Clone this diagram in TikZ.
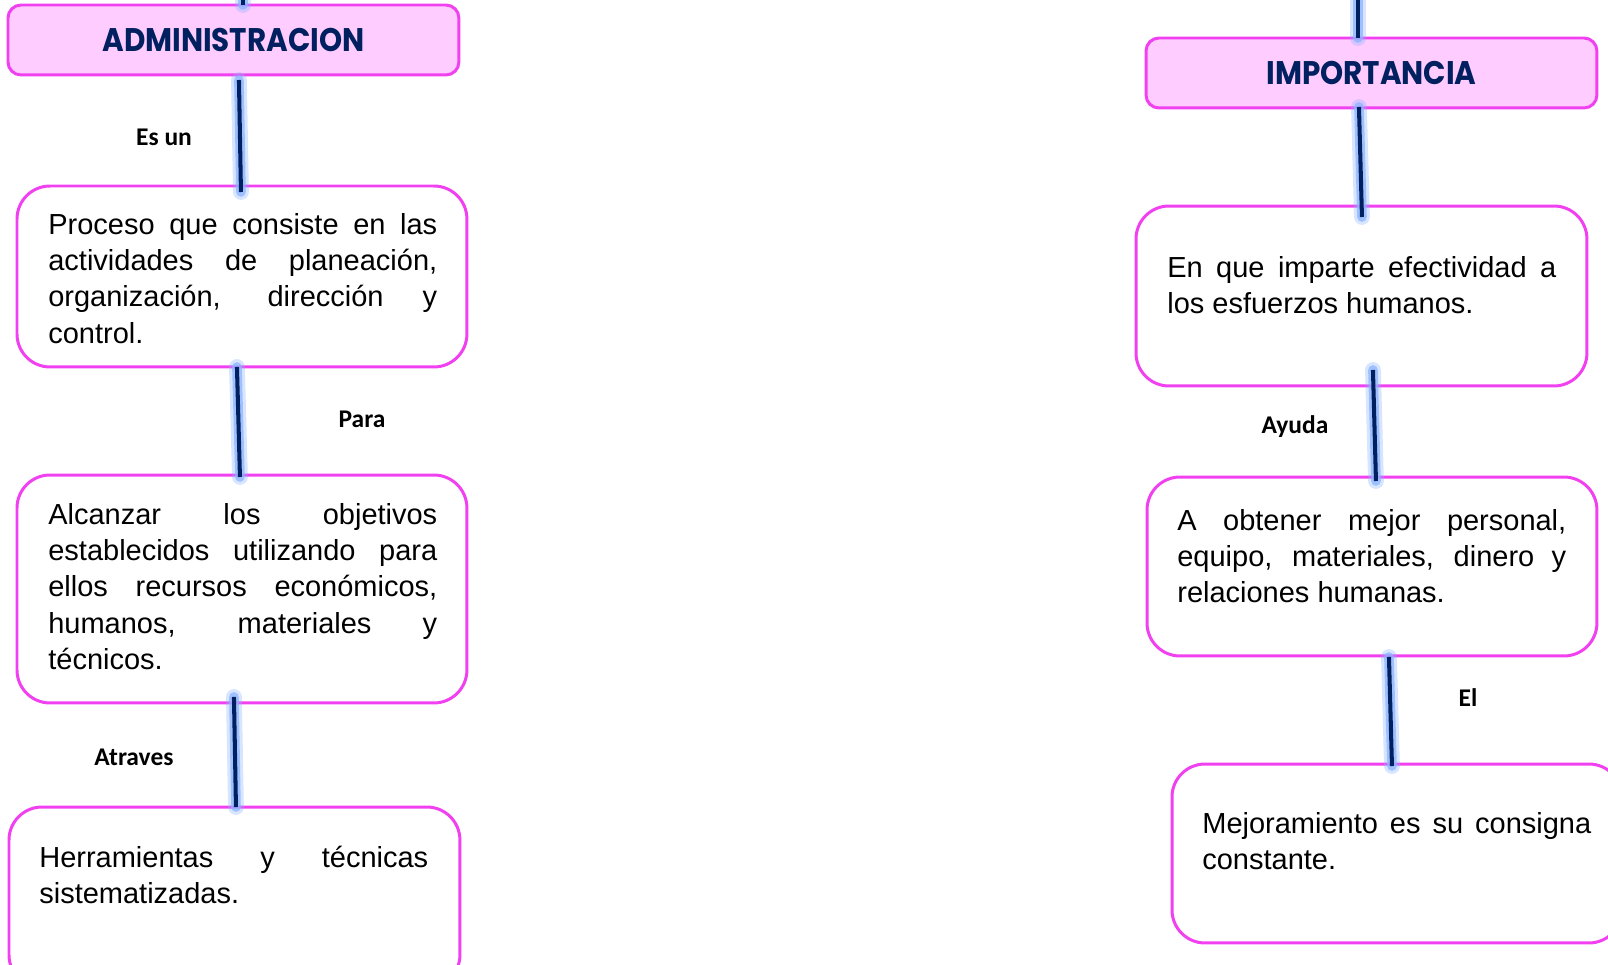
\documentclass[tikz,border=0pt]{standalone}
\usepackage{fontspec}
\setmainfont{Liberation Sans}
\newfontfamily\titlefont{Poppins}[FakeStretch=0.9]
\newfontfamily\labelfont{Carlito}
\usetikzlibrary{calc}
\definecolor{bordecolor}{HTML}{F040F0}
\definecolor{rellenocolor}{HTML}{FFCCFF}
\definecolor{navycolor}{HTML}{002060}
\definecolor{glowcolor}{HTML}{8CB4FF}
\hbadness=10000

\begin{document}
\begin{tikzpicture}[x=0.02cm,y=-0.02cm,
  caja/.style={draw=bordecolor,line width=1.7pt,rounded corners=0.66cm,minimum width=9cm,outer sep=0pt,inner sep=0pt,anchor=north west},
  titulo/.style={caja,fill=rellenocolor,rounded corners=0.26cm,minimum width=9.02cm,minimum height=1.4cm,font=\titlefont\bfseries\fontsize{18.6}{22}\selectfont,text=navycolor},
  texto/.style={anchor=north west,inner sep=0pt,text width=7.78cm,align=justify,font=\fontsize{16.5}{20.7}\selectfont},
  etiqueta/.style={anchor=base,inner sep=0pt,font=\labelfont\bfseries\fontsize{14.5}{17}\selectfont},
  conector/.style={navycolor,line width=2.3pt,
    preaction={draw=glowcolor,opacity=.35,line width=9pt,line cap=round},
    preaction={draw=glowcolor,opacity=.75,line width=5.5pt,line cap=round}}]
\useasboundingbox (0,0) rectangle (1608,964);

% columna izquierda
\node[titulo] (adm) at (8,5) {ADMINISTRACION};
\node[caja,minimum height=3.62cm] (proc) at (17,186) {};
\node[caja,minimum height=4.56cm] (alc) at (17,475) {};
\node[caja,minimum width=9.02cm,minimum height=3.62cm] (herr) at (9,807) {};

% columna derecha
\node[titulo] (imp) at (1146,38) {IMPORTANCIA};
\node[caja,minimum width=9.02cm,minimum height=3.6cm] (enq) at (1136,206) {};
\node[caja,minimum height=3.58cm] (obt) at (1147,477) {};
\node[caja,minimum height=3.58cm] (mej) at (1172,764) {};

% textos
\node[texto] (procT) at ($(proc.north west)+(31,22.4)$) {\strut Proceso que consiste en las\linebreak actividades de planeación,\linebreak organización, dirección y\linebreak control.};
\node[texto] (alcT) at ($(alc.north west)+(31,23.4)$) {\strut Alcanzar los objetivos\linebreak establecidos utilizando para\linebreak ellos recursos económicos,\linebreak humanos, materiales y\linebreak técnicos.};
\node[texto] (herrT) at ($(herr.north west)+(30,34.4)$) {\strut Herramientas y técnicas\linebreak sistematizadas.};
\node[texto] (enqT) at ($(enq.north west)+(31,45.4)$) {\strut En que imparte efectividad a\linebreak los esfuerzos humanos.};
\node[texto] (obtT) at ($(obt.north west)+(30,27.4)$) {\strut A obtener mejor personal,\linebreak equipo, materiales, dinero y\linebreak relaciones humanas.};
\node[texto] (mejT) at ($(mej.north west)+(30,43.4)$) {\strut Mejoramiento es su consigna\linebreak constante.};

% etiquetas
\node[etiqueta] (esun) at (164,145) {Es un};
\node[etiqueta] (para) at (362,427) {Para};
\node[etiqueta] (atraves) at (134,765) {Atraves};
\node[etiqueta] (ayuda) at (1295,433) {Ayuda};
\node[etiqueta] (el) at (1468,706) {El};

% conectores
\coordinate (arribaA) at (243,-8);
\coordinate (arribaB) at (1358,-8);
\draw[conector] (arribaA) -- (arribaA |- adm.north);
\draw[conector] ($(adm.south)+(5.5,5)$) -- ($(proc.north)+(-1,6)$);
\draw[conector] ($(proc.south)+(-5,0)$) -- ($(alc.north)+(-2,2)$);
\draw[conector] ($(alc.south)+(-8,-6)$) -- ($(herr.north)+(1.5,0)$);
\draw[conector] (arribaB) -- (arribaB |- imp.north);
\draw[conector] ($(imp.south)+(-12.5,-1)$) -- ($(enq.north)+(0.5,11)$);
\draw[conector] ($(enq.south)+(11.5,-16)$) -- ($(obt.north)+(4,4)$);
\draw[conector] ($(obt.south)+(17,1)$) -- ($(mej.north)+(-5,2)$);
\end{tikzpicture}
\end{document}
